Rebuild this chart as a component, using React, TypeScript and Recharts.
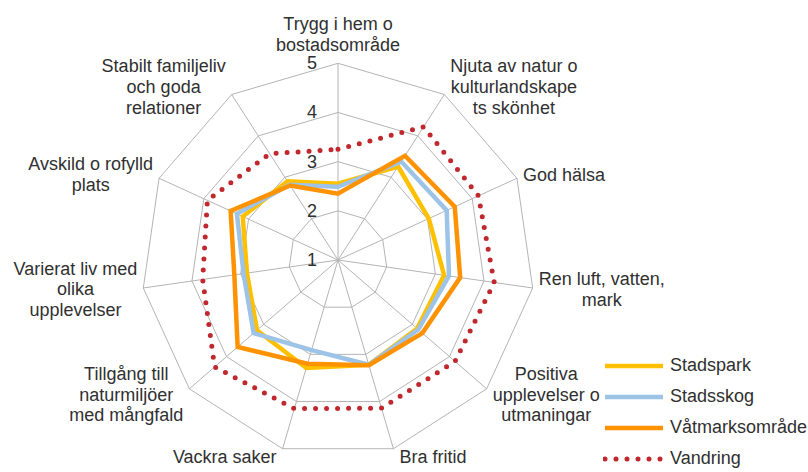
import React from "react";
import {
  RadarChart,
  Radar,
  PolarGrid,
  PolarAngleAxis,
  PolarRadiusAxis,
  Legend,
} from "recharts";

// kategorier (radbrytningar som i originalet)
const categories = [
  "Trygg i hem o\nbostadsområde",
  "Njuta av natur o\nkulturlandskape\nts skönhet",
  "God hälsa",
  "Ren luft, vatten,\nmark",
  "Positiva\nupplevelser o\nutmaningar",
  "Bra fritid",
  "Vackra saker",
  "Tillgång till\nnaturmiljöer\nmed mångfald",
  "Varierat liv med\nolika\nupplevelser",
  "Avskild o rofylld\nplats",
  "Stabilt familjeliv\noch goda\nrelationer",
];

const stadspark = [2.55, 3.26, 3.03, 3.18, 3.13, 3.22, 3.29, 3.18, 2.87, 3.13, 2.9];
const stadsskog = [2.49, 3.38, 3.43, 3.28, 3.16, 3.22, 2.91, 3.27, 2.94, 3.26, 2.82];
const vatmark = [2.35, 3.52, 3.61, 3.51, 3.27, 3.23, 3.2, 3.7, 3.13, 3.4, 2.8];
const vandring = [3.25, 4.22, 4.14, 4.21, 4.15, 4.14, 4.15, 4.32, 3.78, 3.92, 3.57];

const radiusTicks = [1, 2, 3, 4, 5];

const data = categories.map((name, i) => ({
  name,
  stadspark: stadspark[i],
  stadsskog: stadsskog[i],
  vatmark: vatmark[i],
  vandring: vandring[i],
}));

const series = [
  { key: "stadspark", name: "Stadspark", color: "#FFC000", dotted: false },
  { key: "stadsskog", name: "Stadsskog", color: "#9DC3E6", dotted: false },
  { key: "vatmark", name: "Våtmarksområde", color: "#FF9200", dotted: false },
  { key: "vandring", name: "Vandring", color: "#C0282D", dotted: true },
];

const FONT = '"Liberation Sans", Arial, sans-serif';
const FONT_SIZE = 18;
const LINE_H = 20.7;
const TEXT = "#303030";
const CX = 338;
const CY = 260;
const R = 196.7;

let ctx: CanvasRenderingContext2D | null = null;
function textWidth(s: string) {
  if (!ctx) ctx = document.createElement("canvas").getContext("2d");
  if (!ctx) return s.length * 9;
  ctx.font = `${FONT_SIZE}px "Liberation Sans"`;
  return ctx.measureText(s).width;
}

function AngleTick(props: any) {
  const { x, y, payload } = props;
  const dx = x - CX;
  const dy = y - CY;
  const len = Math.hypot(dx, dy) || 1;
  const ux = dx / len;
  const uy = dy / len;
  const vx = CX + ux * R;
  const vy = CY + uy * R;
  const lines = String(payload.value).split("\n");
  const w = Math.max(...lines.map(textWidth));
  const h = lines.length * LINE_H;

  let bx: number;
  let by: number;
  if (Math.abs(ux) < 0.05) {
    bx = vx;
    by = uy < 0 ? vy - 8 - h / 2 : vy + 8 + h / 2;
  } else {
    bx = ux > 0 ? vx + 6 + w / 2 : vx - 6 - w / 2;
    by = vy + 9 * uy;
  }

  return (
    <text
      textAnchor="middle"
      fontFamily={FONT}
      fontSize={FONT_SIZE}
      fill={TEXT}
    >
      {lines.map((ln, i) => (
        <tspan
          key={i}
          x={bx}
          y={by + (i - (lines.length - 1) / 2) * LINE_H}
          dominantBaseline="central"
        >
          {ln}
        </tspan>
      ))}
    </text>
  );
}

function RadiusTick(props: any) {
  const { x, y, payload } = props;
  return (
    <text
      x={x - 21}
      y={y}
      textAnchor="end"
      dominantBaseline="central"
      fontFamily={FONT}
      fontSize={FONT_SIZE}
      fill={TEXT}
    >
      {payload.value}
    </text>
  );
}

function renderLegend() {
  return (
    <div style={{ fontFamily: FONT, fontSize: FONT_SIZE, color: TEXT }}>
      {series.map((s) => (
        <div
          key={s.key}
          style={{
            display: "flex",
            alignItems: "center",
            height: 31,
            whiteSpace: "nowrap",
          }}
        >
          <svg width={62} height={8} style={{ flex: "none" }}>
            <line
              x1={2}
              y1={4}
              x2={60}
              y2={4}
              stroke={s.color}
              strokeWidth={s.dotted ? 5 : 4.5}
              strokeLinecap={s.dotted ? "round" : "butt"}
              strokeDasharray={s.dotted ? "0 11" : undefined}
            />
          </svg>
          <span style={{ marginLeft: 5 }}>{s.name}</span>
        </div>
      ))}
    </div>
  );
}

export default function App() {
  return (
    <div
      style={{
        position: "absolute",
        left: 0,
        top: 0,
        width: 808,
        height: 472,
        overflow: "hidden",
        background: "#fff",
      }}
    >
      <RadarChart
        width={808}
        height={472}
        cx={CX}
        cy={CY}
        outerRadius={R}
        data={data}
        margin={{ top: 0, right: 0, bottom: 0, left: 0 }}
      >
        <PolarGrid gridType="polygon" stroke="#B4B4B4" strokeWidth={1} />
        <PolarAngleAxis
          dataKey="name"
          tick={<AngleTick />}
          tickLine={false}
          axisLine={false}
        />
        <PolarRadiusAxis
          angle={90}
          domain={[1, 5]}
          ticks={radiusTicks as any}
          tickCount={5}
          tick={<RadiusTick />}
          axisLine={false}
          tickLine={false}
        />
        {series.map((s) => (
          <Radar
            key={s.key}
            name={s.name}
            dataKey={s.key}
            stroke={s.color}
            strokeWidth={s.dotted ? 5 : 4.5}
            strokeLinecap={s.dotted ? "round" : "butt"}
            strokeLinejoin="miter"
            strokeDasharray={s.dotted ? "0 11" : undefined}
            fill="none"
            fillOpacity={0}
            dot={false}
            isAnimationActive={false}
          />
        ))}
        <Legend
          content={renderLegend}
          layout="vertical"
          verticalAlign="top"
          align="right"
          wrapperStyle={{ left: 603, top: 350, width: 210, right: "auto" }}
        />
      </RadarChart>
    </div>
  );
}
